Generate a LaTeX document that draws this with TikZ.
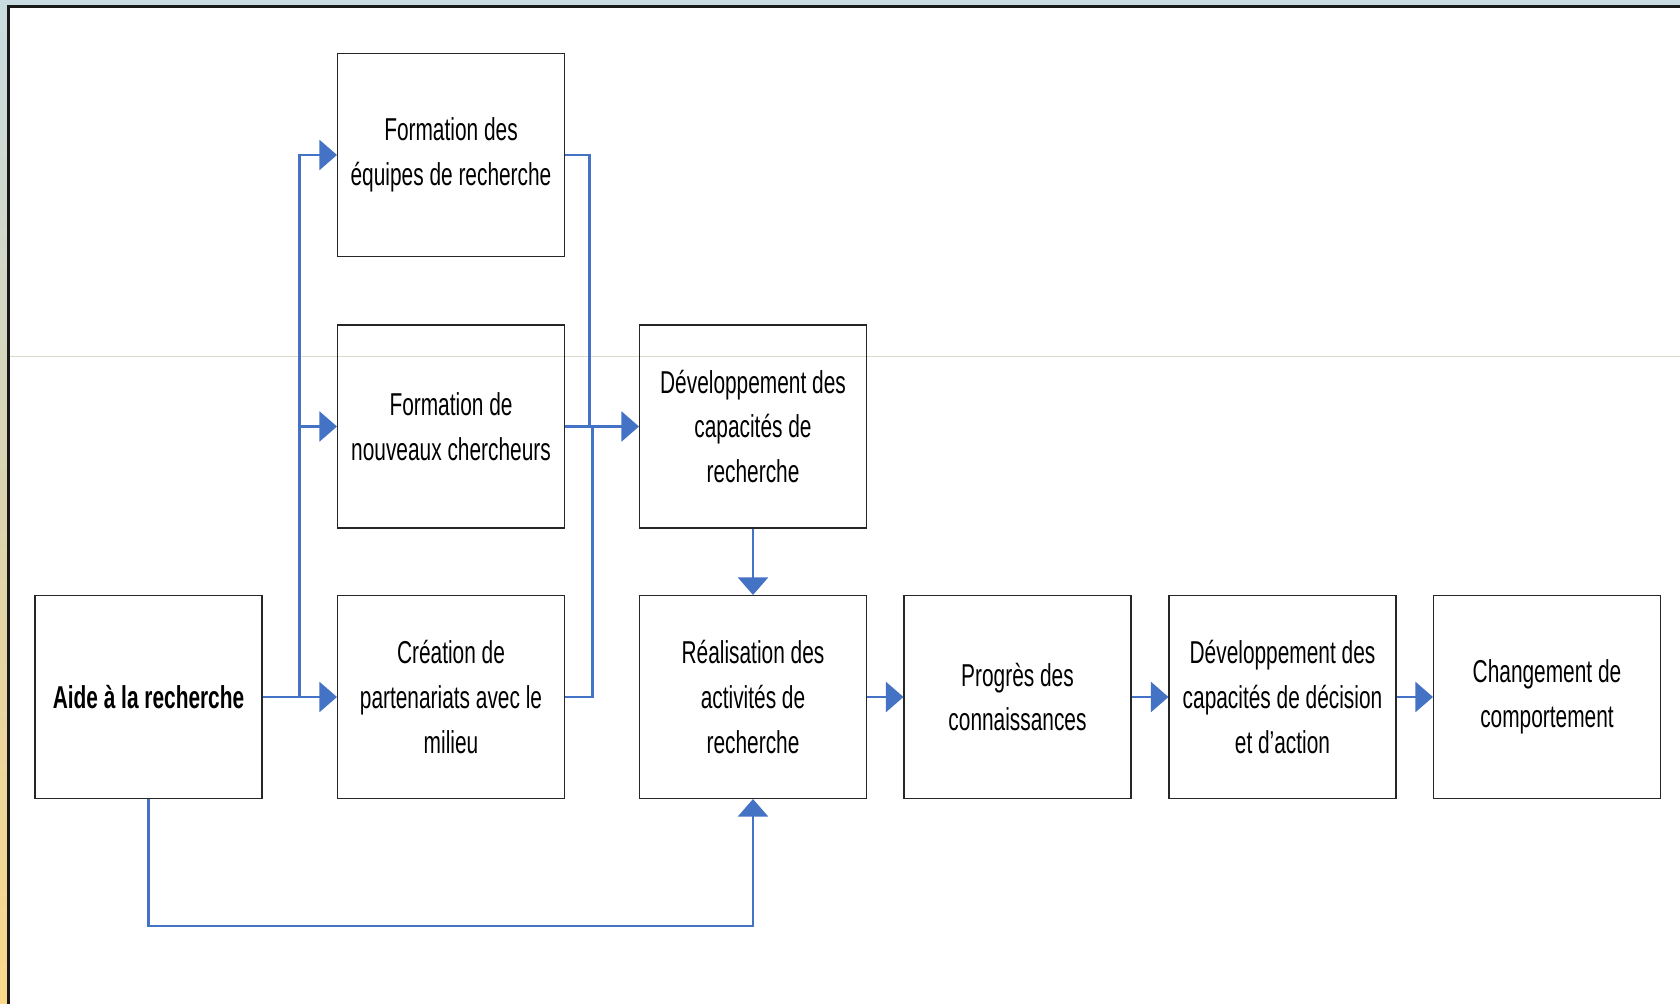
\documentclass[tikz,border=0pt]{standalone}
\usepackage{fontspec}
\setmainfont{Liberation Sans}[FakeStretch=0.66]
\usepackage{tikz}
\usetikzlibrary{arrows.meta}

\definecolor{lienbleu}{HTML}{4472C4}
\definecolor{cadrehaut}{HTML}{C9DCE1}
\definecolor{cadrebas}{HTML}{FBD98A}

\begin{document}
\begin{tikzpicture}[
  boite/.style={rectangle, draw=black!85, line width=0.6pt, minimum width=4.54cm,
    minimum height=4.06cm, inner sep=0pt, align=center,
    font=\fontsize{18pt}{25.5pt}\selectfont},
  lien/.style={draw=lienbleu, line width=1.15pt},
  fleche/.style={lien, -{Triangle[length=0.35cm, width=0.6cm]}}
]

 %%%  fond
 \useasboundingbox (0,0) rectangle (33.6,20.06);
 \shade[top color=cadrehaut, bottom color=cadrebas, middle color=black!6!cadrehaut!50!cadrebas] (0,-0.2) rectangle (33.8,20.06);
 \fill[white] (0.17,-0.3) rectangle (33.9,19.93);
 \draw[line width=1.3pt, black!90] (0.17,-0.3) -- (0.17,19.93) -- (33.9,19.93);
 \draw[line width=0.4pt, color={rgb,255:red,216;green,220;blue,200}] (0.2,12.93) -- (33.9,12.93);

 %%%  nodes

 % colonne de gauche
 \node [boite, font=\fontsize{18pt}{25.5pt}\selectfont\bfseries] (aide) at (2.97,6.12) {Aide à la recherche};

 % formations
 \node [boite] (equipes) at (9.02,16.96) {Formation des\\équipes de recherche};
 \node [boite] (nouveaux) at (9.02,11.53) {Formation de\\nouveaux chercheurs};
 \node [boite] (partenariats) at (9.02,6.12) {Création de\\partenariats avec le\\milieu};

 % chaine des effets
 \node [boite] (capacites) at (15.06,11.53) {Développement des\\capacités de\\recherche};
 \node [boite] (activites) at (15.06,6.12) {Réalisation des\\activités de\\recherche};
 \node [boite] (progres) at (20.35,6.12) {Progrès des\\connaissances};
 \node [boite] (decision) at (25.65,6.12) {Développement des\\capacités de décision\\et d’action};
 \node [boite] (comportement) at (30.94,6.12) {Changement de\\comportement};

 % points de jonction
 \coordinate (busgauche) at (5.99,6.12);
 \coordinate (jonctionhaut) at (11.79,11.53);
 \coordinate (jonctionbas) at (11.85,11.53);
 \coordinate (boucle) at (2.97,1.54);

 %%%  connecteurs

 \draw [fleche] (aide) to (partenariats);
 \draw [fleche] (busgauche) |- (equipes.west);
 \draw [fleche] (busgauche) |- (nouveaux.west);

 \draw [lien] (equipes.east) -| (jonctionhaut);
 \draw [lien] (partenariats.east) -| (jonctionbas);
 \draw [fleche] (nouveaux) to (capacites);

 \draw [fleche] (capacites) to (activites);
 \draw [fleche] (activites) to (progres);
 \draw [fleche] (progres) to (decision);
 \draw [fleche] (decision) to (comportement);

 \draw [fleche] (aide.south) -- (boucle) -| (activites.south);

\end{tikzpicture}
\end{document}
